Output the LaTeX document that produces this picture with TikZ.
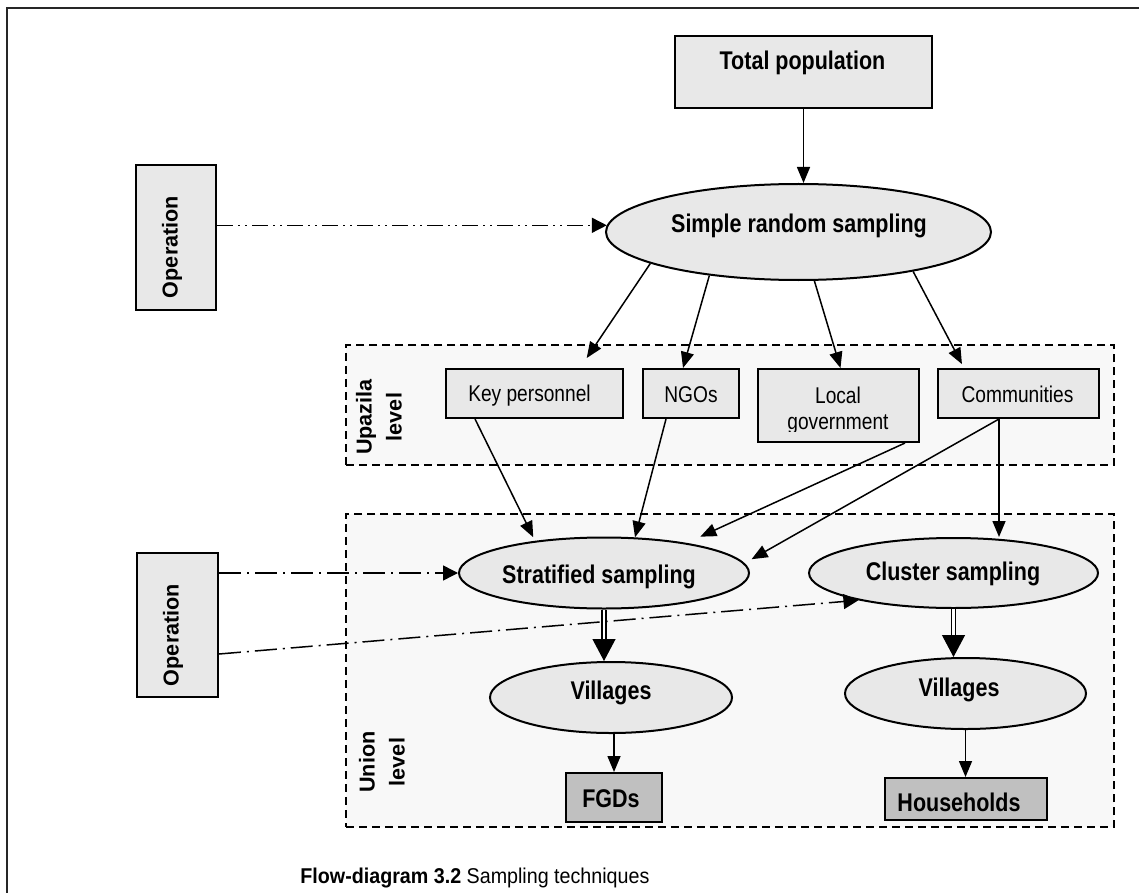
\documentclass[tikz,border=0pt]{standalone}
\usepackage{fontspec}
\setmainfont{Liberation Sans}
\newfontfamily\nar{Liberation Sans}[FakeStretch=0.84]
\newfontfamily\capf{Liberation Sans}[FakeStretch=0.92]
\usetikzlibrary{arrows.meta,shapes.geometric,calc}
\definecolor{boxfill}{HTML}{E8E8E8}
\definecolor{zonefill}{HTML}{F8F8F8}
\definecolor{darkfill}{HTML}{C0C0C0}
\begin{document}
\begin{tikzpicture}[x=0.5pt,y=-0.5pt,
  box/.style={draw=black, line width=1pt, fill=boxfill, rectangle, inner sep=0pt},
  oval/.style={draw=black, line width=1pt, fill=boxfill, ellipse, inner sep=0pt},
  dbox/.style={draw=black, line width=1pt, fill=darkfill, rectangle, inner sep=0pt},
  zone/.style={draw=black, line width=0.9pt, dash pattern=on 4pt off 2.5pt, fill=zonefill, rectangle, inner sep=0pt},
  blabel/.style={font=\nar\fontsize{12.8}{15}\selectfont\bfseries, inner sep=0pt},
  rlabel/.style={font=\nar\fontsize{11.4}{13}\selectfont, inner sep=0pt},
  vlabel/.style={font=\fontsize{10.8}{15}\selectfont\bfseries, rotate=90, inner sep=0pt, align=center},
  arr/.style={line width=0.75pt, -{Triangle[length=8pt,width=6.5pt]}},
  darr/.style={double, double distance=1.4pt, line width=0.6pt, -{Triangle[length=11pt,width=11.5pt]}},
  dtip/.style={-{Triangle[length=7.5pt,width=7.5pt]}},
  dashdotdot/.style={line width=0.75pt, dash pattern=on 8pt off 2.5pt on 1pt off 2.5pt on 1pt off 2.5pt},
  dashdot/.style={line width=0.75pt, dash pattern=on 11pt off 3pt on 1pt off 3pt}
]
\useasboundingbox (0,0) rectangle (1139,893);
\fill[white] (0,0) rectangle (1139,893);
\draw[line width=1pt, black!85] (7,900) -- (7,8) -- (1150,8);

% zones
\node[zone, minimum width=384pt, minimum height=60pt] (upz) at (730,405) {};
\node[zone, minimum width=384pt, minimum height=156.5pt] (uni) at (730,670.5) {};
\node[vlabel] (upzt) at (379,417) {Upazila\\level};
\node[vlabel] (unit) at (382,762) {Union\\level};

% top
\node[box, minimum width=128.5pt, minimum height=36pt] (tp) at (803.5,72) {};
\node[blabel] (tpt) at (802.5,63) {Total population};
\node[oval, minimum width=192.5pt, minimum height=48pt] (srs) at (798.5,232) {};
\node[blabel] (srst) at (799,226) {Simple random sampling};

% operation boxes
\node[box, minimum width=40pt, minimum height=72.5pt] (op1) at (176,237.5) {};
\node[vlabel] (op1t) at (172,247) {Operation};
\node[box, minimum width=40.5pt, minimum height=72pt] (op2) at (177.5,625) {};
\node[vlabel] (op2t) at (173,635) {Operation};

% upazila boxes
\node[box, minimum width=88.5pt, minimum height=24.5pt] (kp) at (534.5,393.5) {};
\node[rlabel] (kpt) at (529.5,396) {Key personnel};
\node[box, minimum width=48pt, minimum height=24.5pt] (ngo) at (691,393.5) {};
\node[rlabel] (ngot) at (691,394.5) {NGOs};
\node[box, minimum width=80.5pt, minimum height=36.5pt] (lg) at (838.5,405.5) {};
\node[rlabel, anchor=base] (lgt1) at (838,403) {Local};
\begin{scope}
  \clip (758,369) rectangle (919,431);
  \node[rlabel, anchor=base] (lgt2) at (838,429) {government};
\end{scope}
\node[box, minimum width=80.5pt, minimum height=24.5pt] (com) at (1018.5,393.5) {};
\node[rlabel] (comt) at (1017.5,394.5) {Communities};

% union level
\node[oval, minimum width=145pt, minimum height=35.5pt] (strat) at (604,573) {};
\node[blabel] (stratt) at (599,576.5) {Stratified sampling};
\node[oval, minimum width=144.5pt, minimum height=35pt] (clu) at (953.5,573) {};
\node[blabel] (clut) at (953,574) {Cluster sampling};
\node[oval, minimum width=121pt, minimum height=35.5pt] (vil1) at (611,697.5) {};
\node[blabel] (vil1t) at (611,692.5) {Villages};
\node[oval, minimum width=120.5pt, minimum height=35.5pt] (vil2) at (965.5,693.5) {};
\node[blabel] (vil2t) at (959,689.5) {Villages};
\node[dbox, minimum width=48pt, minimum height=24.5pt] (fgd) at (614,797.5) {};
\node[blabel] (fgdt) at (611,798.5) {FGDs};
\node[dbox, minimum width=81pt, minimum height=21pt] (hh) at (966,799) {};
\node[blabel] (hht) at (959,802.5) {Households};

% caption
\node[font=\capf\fontsize{10.7}{12}\selectfont, anchor=base west, inner sep=0pt] (cap) at (300,883)
  {\textbf{Flow-diagram 3.2} Sampling techniques};

% connectors
\draw[arr] (tp.south) -- (tp.south |- srs.north);
\draw[dashdotdot, dtip] (op1.east |- srs.178) -- (srs.178);
\draw[arr, shorten >=6pt] (srs.192) -- ([xshift=22.75pt]kp.north);
\draw[arr] (srs.206) -- ([xshift=-4pt]ngo.north);
\draw[arr] (srs.288) -- ([xshift=1pt]lg.north);
\draw[arr, shorten >=2.2pt] (srs.341) -- ([xshift=-27.25pt]com.north);

\draw[arr, shorten >=2pt] ([xshift=-29.75pt]kp.south) -- (strat.155);
\draw[arr] ([xshift=-12.5pt]ngo.south) -- (strat.49);
\draw[arr, shorten >=7.5pt] ([xshift=33.25pt]lg.south) -- (strat.20);
\draw[arr, shorten >=4pt] ([xshift=-9.75pt]com.south) -- (strat.4);
\draw[arr] ([xshift=-9.75pt]com.south) -- ([xshift=-9.75pt]com.south |- clu.north);

\draw[dashdot, dtip] (op2.east |- strat.west) -- (strat.west);
\draw[dashdot, dtip] ([yshift=-14.5pt]op2.east) -- (clu.196);

\draw[darr] (strat.south) -- (strat.south |- vil1.north);
\draw[darr] (clu.south) -- (clu.south |- vil2.north);
\draw[arr] (fgd.north |- vil1.south) -- (fgd.north);
\draw[arr] (vil2.south) -- (vil2.south |- hh.north);
\end{tikzpicture}
\end{document}
